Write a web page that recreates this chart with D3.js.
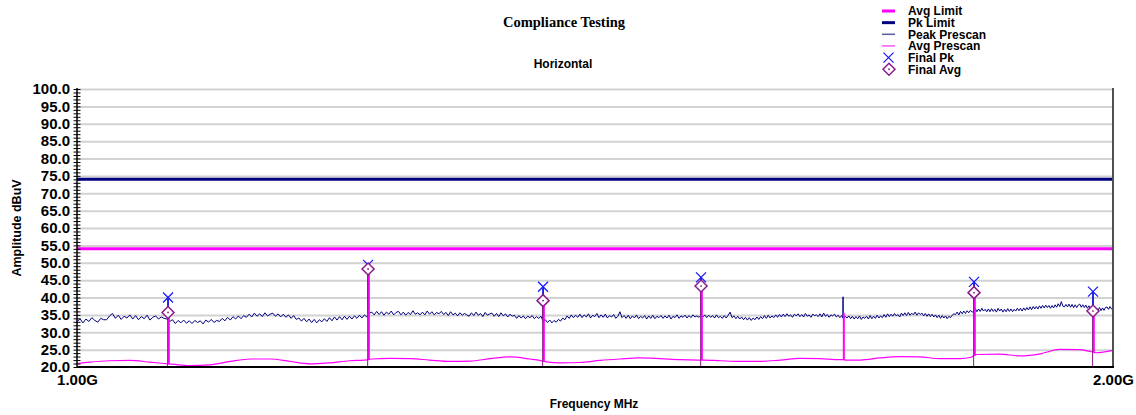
<!DOCTYPE html>
<html><head><meta charset="utf-8">
<script src="https://cdn.jsdelivr.net/npm/d3@7"></script>
<style>
html,body{margin:0;padding:0;background:#fff;}
svg{display:block;}
text{font-family:"Liberation Sans",Arial,sans-serif;font-weight:bold;fill:#000;}
</style></head><body>
<svg id="chart" width="1136" height="415"></svg>
<script>
// ---------------- DATA ----------------
const titleText = "Compliance Testing";
const subtitleText = "Horizontal";
const xTitle = "Frequency MHz";
const yTitle = "Amplitude dBuV";
const legendNames = ["Avg Limit", "Pk Limit", "Peak Prescan", "Avg Prescan", "Final Pk", "Final Avg"];

const xTickValues = [1000, 2000];
const xTickLabels = ["1.00G", "2.00G"];
const yTickValues = [20, 25, 30, 35, 40, 45, 50, 55, 60, 65, 70, 75, 80, 85, 90, 95, 100];

const limitFreqs = [1000, 2000];
const pkLimitVals = [74, 74];
const avgLimitVals = [54, 54];

// Peak prescan sweep: 1000 MHz .. 2000 MHz, 2 MHz step
const peakStartMHz = 1000;
const peakStepMHz = 2;
const peakVals = [
33.0,33.9,32.7,33.8,33.1,34.2,33.4,32.9,34.0,33.6,
33.6,34.7,35.4,34.0,34.9,33.7,34.6,34.1,35.0,33.8,
34.8,33.6,34.5,33.9,34.9,33.5,34.3,34.7,33.8,34.4,
34.0,33.8,33.1,33.6,32.5,33.4,32.7,33.5,32.6,33.3,
32.5,33.4,32.8,33.3,32.4,33.5,32.9,33.7,32.8,33.4,
33.1,34.0,33.3,34.3,33.5,34.5,33.8,34.7,33.9,34.8,
34.3,35.2,34.4,35.5,34.6,35.3,34.5,35.6,34.7,35.2,
35.5,34.6,35.3,34.4,35.2,34.3,35.0,34.0,34.8,33.7,
34.1,33.2,34.0,33.0,33.8,32.8,33.7,32.7,33.6,33.0,
33.9,33.1,34.2,33.3,34.4,33.5,34.5,33.6,34.6,33.7,
34.6,33.8,34.7,34.0,34.9,34.1,35.0,34.4,35.5,35.8,
35.0,36.0,35.1,35.9,34.9,35.8,35.2,36.1,35.0,35.7,
36.0,35.0,35.8,34.9,35.7,35.1,36.2,35.2,35.6,35.0,
35.8,35.0,36.1,35.2,35.9,35.0,35.7,35.3,36.0,35.1,
35.7,34.8,35.9,35.0,35.5,34.7,35.6,34.9,35.4,35.0,
34.6,35.6,34.8,35.8,34.9,35.4,34.5,35.7,34.9,35.3,
35.5,34.6,35.4,34.5,35.6,34.7,35.3,34.4,35.2,34.6,
34.9,34.0,34.8,34.1,34.7,33.9,34.6,34.2,34.8,33.9,
34.5,34.0,34.6,33.2,33.6,32.8,33.5,32.7,33.4,32.9,
33.7,33.2,34.1,33.6,34.7,34.0,35.0,34.2,34.9,34.3,
35.2,34.2,35.0,34.4,35.3,34.1,34.9,34.5,35.4,34.2,
35.0,34.3,35.2,34.1,34.8,34.4,35.1,34.0,34.6,35.9,
34.2,34.8,34.0,34.9,33.9,34.7,34.1,35.0,33.9,34.6,
34.1,34.8,33.8,34.7,34.0,34.9,33.9,34.6,34.2,34.8,
34.0,34.7,34.1,34.9,33.8,34.6,34.2,35.0,34.0,34.7,
34.3,34.9,34.1,34.8,34.2,35.0,34.4,34.7,34.3,34.8,
34.4,35.0,34.2,34.9,34.3,34.8,34.1,35.0,34.2,34.6,
34.0,34.8,34.1,34.9,35.8,34.2,34.7,33.9,34.6,33.8,
34.4,33.6,34.3,33.5,34.2,33.4,34.1,33.6,34.4,33.7,
34.5,33.9,34.8,34.0,34.9,34.1,34.7,34.2,35.0,34.3,
35.1,34.4,35.2,34.5,35.3,34.6,35.0,34.3,35.2,34.7,
35.3,34.5,35.1,34.4,35.4,34.6,35.0,34.3,35.2,34.8,
35.0,34.5,35.3,34.4,35.5,34.6,35.1,34.3,35.0,34.7,
35.2,34.4,34.9,34.2,34.8,34.0,34.6,34.1,34.7,33.9,
34.6,33.8,34.5,33.9,34.7,33.7,34.4,34.0,34.6,33.8,
34.8,33.9,34.6,34.0,34.9,34.1,34.7,34.2,35.1,34.3,
35.3,34.5,35.2,34.6,35.4,34.7,35.1,34.4,35.5,34.8,
35.6,34.8,35.7,34.9,35.5,35.0,35.8,34.9,35.6,35.1,
35.5,34.7,35.4,34.6,35.3,34.5,35.2,34.4,35.0,34.2,
34.9,34.0,34.8,34.1,34.7,33.9,34.6,34.2,34.9,35.3,
35.1,35.8,35.0,36.0,35.3,36.1,35.4,36.2,35.6,36.3,
35.9,35.7,36.8,35.9,36.7,36.0,36.9,36.1,36.6,35.9,
36.7,35.9,36.8,36.0,36.6,35.8,36.9,36.1,36.7,35.8,
36.6,35.9,36.8,36.0,36.7,35.9,36.6,36.1,36.9,36.2,
36.9,36.1,37.0,36.3,37.1,36.4,37.3,36.5,37.4,36.7,
37.4,36.7,37.6,36.9,37.7,37.0,37.8,37.1,37.7,36.9,
37.7,37.0,37.9,37.2,38.2,37.4,38.8,37.5,37.3,38.0,
37.3,38.1,37.2,38.0,37.1,37.9,37.1,37.8,38.1,37.2,
37.9,37.1,37.8,36.9,37.6,36.8,36.4,37.0,36.2,36.9,
36.3,37.1,36.2,37.0,36.3,37.1,37.3,36.6,37.4,36.7,
37.1
];

// Average prescan (smooth trace)
const avgFreqs = [1000,1008.7,1022,1036,1050,1060,1062.8,1066,1078,1093,1108,1123,1138,1153,1169,1184,1200,1212,1215.0,1218,1233,1250,1266,1283,1301,1318,1336,1354,1363,1365.9,1369,1382,1400,1419,1438,1457,1477,1497,1515,1518.2,1521,1538,1558,1579,1601,1622,1644,1666,1669.5,1673,1689,1711,1734,1758,1781,1805,1819,1822.4,1826,1854,1879,1905,1930,1956,1969,1973.4,1977,2000];
const avgVals  = [21.0,21.4,21.8,21.9,21.4,21.0,20.9,20.8,20.4,20.6,21.6,22.3,22.3,21.6,20.9,21.2,21.8,22.0,22.1,22.3,22.5,22.4,22.0,21.6,21.7,22.4,22.9,22.3,21.9,21.7,21.5,21.2,21.3,21.9,22.3,22.6,22.4,22.1,22.0,22.0,22.0,21.8,21.6,21.6,22.0,22.5,22.4,22.1,22.1,22.0,22.0,22.6,23.0,22.9,22.4,22.4,22.8,23.3,23.6,23.7,23.2,23.8,25.1,25.0,24.5,24.3,24.1,24.8];

// Harmonic spikes seen in both prescans
const spikeFreqs = [1062.8, 1215.0, 1365.9, 1518.2, 1669.5, 1822.4, 1973.4];
const spikePk    = [40.0, 49.4, 43.1, 45.8, 40.2, 44.5, 41.7];
const spikeAvg   = [35.7, 48.2, 39.1, 43.3, 35.5, 41.4, 36.1];

// Final measurements
const finalFreqs = [1062.8, 1215.0, 1365.9, 1518.2, 1822.4, 1973.4];
const finalPk    = [40.0, 49.4, 43.1, 45.8, 44.5, 41.7];
const finalAvg   = [35.7, 48.2, 39.1, 43.3, 41.4, 36.1];

// ---------------- CHART ----------------
const L = 77, R = 1113, T = 89, B = 367;
const svg = d3.select("#chart");
const x = d3.scaleLog().domain([1000, 2000]).range([L, R]);
const y = d3.scaleLinear().domain([20, 100]).range([B, T]);

const NAVY = "#000080", MAG = "#ff00ff", BLUE = "#1a1aff", PURP = "#8b1a8b";

// gridlines
svg.append("g").attr("transform", `translate(${L},0)`)
  .call(d3.axisLeft(y).tickValues(yTickValues.slice(1)).tickSize(-(R - L)).tickFormat(""))
  .call(g => g.select(".domain").remove())
  .call(g => g.selectAll("line").attr("stroke", "#d2d2d2").attr("stroke-width", 2));

const line = d3.line().x(d => x(d[0])).y(d => y(d[1]));

// limit lines
svg.append("path").datum(limitFreqs.map((f, i) => [f, avgLimitVals[i]]))
  .attr("d", line).attr("fill", "none").attr("stroke", MAG).attr("stroke-width", 3);
svg.append("path").datum(limitFreqs.map((f, i) => [f, pkLimitVals[i]]))
  .attr("d", line).attr("fill", "none").attr("stroke", NAVY).attr("stroke-width", 3);

// peak prescan
const peakData = peakVals.map((v, i) => [peakStartMHz + i * peakStepMHz, v]);
svg.append("path").datum(peakData).attr("d", line)
  .attr("fill", "none").attr("stroke", NAVY).attr("stroke-width", 1);
// peak spikes
spikeFreqs.forEach((f, i) => {
  const base = peakVals[Math.round((f - peakStartMHz) / peakStepMHz)];
  svg.append("line").attr("x1", x(f)).attr("x2", x(f)).attr("y1", y(base)).attr("y2", y(spikePk[i]))
    .attr("stroke", NAVY).attr("stroke-width", 1.5);
});

// avg prescan
const avgData = avgFreqs.map((f, i) => [f, avgVals[i]]);
svg.append("path").datum(avgData).attr("d", d3.line().x(d => x(d[0])).y(d => y(d[1])).curve(d3.curveMonotoneX))
  .attr("fill", "none").attr("stroke", MAG).attr("stroke-width", 1.2);
spikeFreqs.forEach((f, i) => {
  const base = avgVals[avgFreqs.indexOf(f)];
  svg.append("line").attr("x1", x(f) + 0.8).attr("x2", x(f) + 0.8).attr("y1", y(base)).attr("y2", y(spikeAvg[i]))
    .attr("stroke", MAG).attr("stroke-width", 2);
});

// stems
finalFreqs.forEach((f, i) => {
  svg.append("line").attr("x1", x(f)).attr("x2", x(f)).attr("y1", y(finalAvg[i])).attr("y2", y(finalPk[i]))
    .attr("stroke", BLUE).attr("stroke-width", 1.2);
});
finalFreqs.forEach((f, i) => {
  svg.append("line").attr("x1", x(f) - 0.4).attr("x2", x(f) - 0.4).attr("y1", B).attr("y2", y(finalAvg[i]))
    .attr("stroke", PURP).attr("stroke-width", 1);
});

function drawX(g, cx, cy) {
  const s = 5;
  g.append("path").attr("d", `M${cx - s},${cy - s}L${cx + s},${cy + s}M${cx - s},${cy + s}L${cx + s},${cy - s}`)
    .attr("stroke", BLUE).attr("stroke-width", 1.3).attr("fill", "none");
}
function drawDiamond(g, cx, cy) {
  const s = 6;
  g.append("path").attr("d", `M${cx},${cy - s}L${cx + s},${cy}L${cx},${cy + s}L${cx - s},${cy}Z`)
    .attr("stroke", PURP).attr("stroke-width", 1.5).attr("fill", "#fff");
  g.append("circle").attr("cx", cx).attr("cy", cy).attr("r", 0.9).attr("fill", PURP);
}
const mk = svg.append("g");
finalFreqs.forEach((f, i) => drawX(mk, x(f), y(finalPk[i])));
finalFreqs.forEach((f, i) => drawDiamond(mk, x(f), y(finalAvg[i])));

// axes frame
svg.append("line").attr("x1", R).attr("x2", R).attr("y1", T - 1).attr("y2", B)
  .attr("stroke", "#505050").attr("stroke-width", 2);
svg.append("line").attr("x1", L).attr("x2", R + 1).attr("y1", B).attr("y2", B)
  .attr("stroke", "#000").attr("stroke-width", 2);

// y minor ticks
svg.append("g").attr("transform", `translate(${L},0)`)
  .call(d3.axisLeft(y).tickValues(d3.range(20, 100.5, 1)).tickFormat(""))
  .call(g => g.select(".domain").attr("stroke", "#000").attr("stroke-width", 1.5).attr("d", `M0,${T - 1}V${B}`))
  .call(g => g.selectAll(".tick line").attr("x1", 3.5).attr("x2", -3.5).attr("stroke", "#000").attr("stroke-width", 1));
// y labels
svg.append("g").attr("transform", `translate(${L},0)`)
  .call(d3.axisLeft(y).tickValues(yTickValues).tickFormat(d3.format(".1f")).tickSize(0).tickPadding(7))
  .call(g => g.select(".domain").remove())
  .call(g => g.selectAll("text").style("font-size", "15px").style("font-family", '"Liberation Sans",Arial,sans-serif').style("font-weight", "bold").attr("fill", "#000"));
// x labels
svg.append("g").attr("transform", `translate(0,${B})`)
  .call(d3.axisBottom(x).tickValues(xTickValues).tickFormat((d, i) => xTickLabels[i]).tickSize(0).tickPadding(7))
  .call(g => g.select(".domain").remove())
  .call(g => g.selectAll("text").style("font-size", "15px").style("font-family", '"Liberation Sans",Arial,sans-serif').style("font-weight", "bold").attr("fill", "#000"));

// titles
svg.append("text").attr("x", 564).attr("y", 27).attr("text-anchor", "middle")
  .style("font-family", '"Liberation Serif","Times New Roman",serif').style("font-size", "14.5px").text(titleText);
svg.append("text").attr("x", 563).attr("y", 68).attr("text-anchor", "middle")
  .style("font-size", "12px").text(subtitleText);
svg.append("text").attr("x", 594).attr("y", 408).attr("text-anchor", "middle")
  .style("font-size", "12px").text(xTitle);
svg.append("text").attr("transform", "translate(21,228) rotate(-90)").attr("text-anchor", "middle")
  .style("font-size", "12.5px").text(yTitle);

// legend
const lg = svg.append("g");
legendNames.forEach((name, i) => {
  const cy = 11 + i * 11.65;
  if (i === 0) lg.append("line").attr("x1", 882).attr("x2", 895).attr("y1", cy).attr("y2", cy).attr("stroke", MAG).attr("stroke-width", 3);
  if (i === 1) lg.append("line").attr("x1", 882).attr("x2", 895).attr("y1", cy).attr("y2", cy).attr("stroke", NAVY).attr("stroke-width", 3);
  if (i === 2) lg.append("line").attr("x1", 882).attr("x2", 895).attr("y1", cy).attr("y2", cy).attr("stroke", "#5a5a9c").attr("stroke-width", 1.5);
  if (i === 3) lg.append("line").attr("x1", 882).attr("x2", 895).attr("y1", cy).attr("y2", cy).attr("stroke", MAG).attr("stroke-width", 1);
  if (i === 4) drawX(lg, 888.5, cy);
  if (i === 5) drawDiamond(lg, 889, cy);
  lg.append("text").attr("x", 908).attr("y", cy + 4.3).style("font-size", "12px").text(name);
});
</script>
</body></html>
